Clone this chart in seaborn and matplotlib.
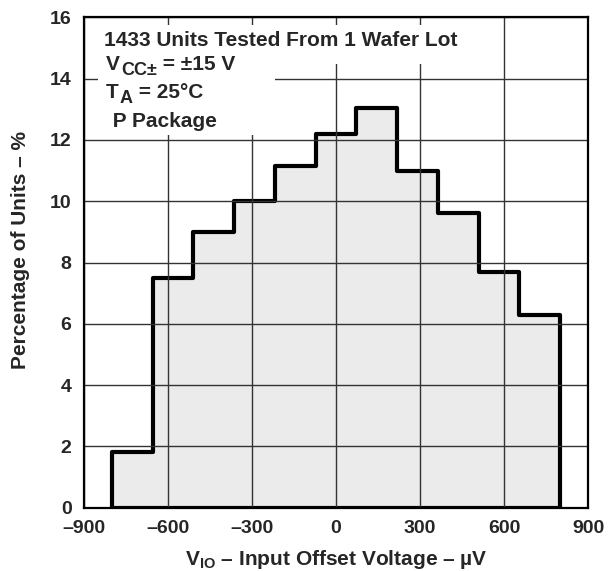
import matplotlib
matplotlib.use("Agg")
import matplotlib.pyplot as plt
import seaborn as sns
from matplotlib.patches import Rectangle

# bin edges (µV) and percentage of units per bin
bin_edges = [-800, -654.5, -509.1, -363.6, -218.2, -72.7, 72.7, 218.2, 363.6, 509.1, 654.5, 800]
pct_units = [1.8, 7.5, 9.0, 10.0, 11.15, 12.2, 13.05, 11.0, 9.6, 7.7, 6.3]

x_ticks = [-900, -600, -300, 0, 300, 600, 900]
x_tick_labels = ["–900", "–600", "–300", "0", "300", "600", "900"]
y_ticks = [0, 2, 4, 6, 8, 10, 12, 14, 16]

# note lines: (main, subscript, rest)
note_lines = [
    ("1433 Units Tested From 1 Wafer Lot", "", ""),
    ("V", "CC±", " = ±15 V"),
    ("T", "A", " = 25°C"),
    (" P Package", "", ""),
]

sns.set_theme(style="white")
plt.rcParams["font.family"] = ["Liberation Sans", "DejaVu Sans"]
plt.rcParams["font.weight"] = "bold"
plt.rcParams["mathtext.fontset"] = "custom"
plt.rcParams["mathtext.rm"] = "Liberation Sans:bold"
plt.rcParams["mathtext.it"] = "Liberation Sans:bold"
plt.rcParams["mathtext.bf"] = "Liberation Sans:bold"

centers = [(a + b) / 2 for a, b in zip(bin_edges[:-1], bin_edges[1:])]

fig = plt.figure(figsize=(6.11, 5.71), dpi=100)
ax = fig.add_axes([0.1375, 0.111, 0.825, 0.8585])

sns.histplot(x=centers, weights=pct_units, bins=bin_edges, element="step",
             fill=True, facecolor="#ebebeb", edgecolor="black", linewidth=3,
             alpha=1, ax=ax, zorder=1)

ax.set_xlim(-900, 900)
ax.set_ylim(0, 16)
ax.set_xticks(x_ticks)
ax.set_xticklabels(x_tick_labels)
ax.set_yticks(y_ticks)
ax.tick_params(axis="both", length=0, labelsize=14)
ax.tick_params(axis="x", pad=9)
ax.tick_params(axis="y", pad=9)
for lab in ax.get_xticklabels() + ax.get_yticklabels():
    lab.set_fontweight("bold")

ax.set_axisbelow(False)
ax.grid(True, color="#333333", linewidth=1.0)
for s in ax.spines.values():
    s.set_linewidth(1.6)
    s.set_color("black")
    s.set_zorder(5)

ax.set_xlabel(r"V$_{\mathrm{IO}}$ – Input Offset Voltage – µV", fontsize=15,
              fontweight="bold", labelpad=8)
ax.set_ylabel("Percentage of Units – %", fontsize=15, fontweight="bold")
ax.yaxis.set_label_coords(-0.108, 0.525)

# white boxes behind the note text
ax.add_patch(Rectangle((0.028, 0.905), 0.74, 0.08, transform=ax.transAxes,
                       facecolor="white", edgecolor="none", zorder=3))
ax.add_patch(Rectangle((0.028, 0.76), 0.35, 0.15, transform=ax.transAxes,
                       facecolor="white", edgecolor="none", zorder=3))

note_pos = [(0.040, 0.941), (0.044, 0.893), (0.044, 0.836), (0.046, 0.776)]
kw = dict(fontweight="bold", zorder=4)
for (tx, ty), (main, sub, rest) in zip(note_pos, note_lines):
    t = ax.text(tx, ty, main, transform=ax.transAxes, fontsize=15,
                va="baseline", ha="left", **kw)
    if sub:
        s = ax.annotate(sub, xy=(1, 0), xycoords=t, xytext=(0.5, -3.6),
                        textcoords="offset points", fontsize=13,
                        va="bottom", ha="left", **kw)
        ax.annotate(rest, xy=(1, 0), xycoords=s, xytext=(0, 3.6),
                    textcoords="offset points", fontsize=15,
                    va="bottom", ha="left", **kw)

fig.savefig("out.png", dpi=100)
plt.close(fig)
